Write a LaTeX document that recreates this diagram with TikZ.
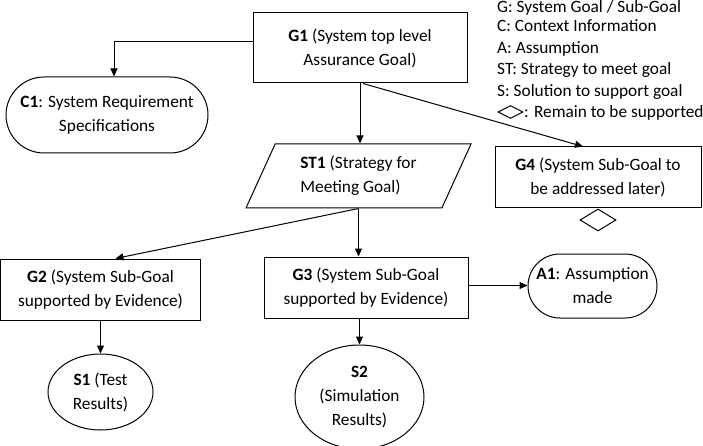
\documentclass[tikz,border=0pt]{standalone}
\usepackage{fontspec}
\setmainfont{Carlito}
\usetikzlibrary{arrows.meta,positioning,shapes.geometric}

\newcommand\gsnfont{\fontsize{17.3}{24}\selectfont}
\newcommand\keyfont{\fontsize{17.3}{21.5}\selectfont}

\begin{document}
\begin{tikzpicture}[x=1pt, y=-1pt, >={Triangle[length=8pt,width=7pt]}]

% ---------------- styles ----------------
\tikzset{
  box/.style={draw, line width=1pt, align=center, inner sep=1pt, font=\gsnfont},
  goal/.style={box, rectangle},
  context/.style={box, rectangle, rounded corners=#1},
  strategy/.style={box, trapezium, trapezium left angle=55, trapezium right angle=125,
                   trapezium stretches body, align=left},
  solution/.style={box, ellipse, inner sep=0pt},
  undev/.style={draw, diamond, line width=1pt, inner sep=0pt},
  link/.style={->, line width=1pt},
  legend/.style={font=\keyfont, anchor=base west, inner sep=0pt}
}

% fixed canvas, as the page
\useasboundingbox (0,0) rectangle (703,446);

% ---------------- top goal and context ----------------
\node[goal, minimum width=214pt, minimum height=70pt] (g1) at (360,48)
  {\textbf{G1} (System top level\\Assurance Goal)};
\node[context=38pt, minimum width=202pt, minimum height=76pt] (c1) at (107,115)
  {\textbf{C1}: System Requirement\\Specifications};

% ---------------- strategy ----------------
\node[strategy, minimum width=225pt, minimum height=64pt] (st1) at (358.5,176)
  {\textbf{ST1} (Strategy for\\Meeting Goal)};

% ---------------- sub-goals ----------------
\node[goal, minimum width=206pt, minimum height=61pt] (g4) at (598,177.5)
  {\textbf{G4} (System Sub-Goal to\\be addressed later)};
\node[undev, minimum width=36pt, minimum height=22pt, below=0pt of g4] (g4u) {};

\node[goal, minimum width=200pt, minimum height=61pt] (g2) at (100.5,289.5)
  {\textbf{G2} (System Sub-Goal\\supported by Evidence)};
\node[goal, minimum width=204pt, minimum height=61pt] (g3) at (366,287.5)
  {\textbf{G3} (System Sub-Goal\\supported by Evidence)};
\node[context=32pt, minimum width=129pt, minimum height=64pt] (a1) at (592.5,286)
  {\textbf{A1}: Assumption\\made};

% ---------------- solutions ----------------
\node[solution, minimum width=105pt, minimum height=76pt] (s1) at (100.5,392)
  {\textbf{S1} (Test\\Results)};
\node[solution, minimum width=129pt, minimum height=104pt] (s2) at (359.5,397)
  {\textbf{S2}\\(Simulation\\Results)};

% ---------------- links ----------------
\draw[link] ([yshift=6pt]g1.west) -| ([xshift=7pt]c1.north);
\draw[link] (g1.south) -- (g1.south |- st1.north);
\draw[link] ([xshift=3pt]g1.south) -- ([xshift=-15pt]g4.north);
\draw[link] (st1.south) -- ([xshift=15pt]g2.north);
\draw[link] (st1.south) -- (st1.south |- g3.north);
\draw[link] ([yshift=2pt]g3.east) -- ([yshift=2pt]g3.east -| a1.west);
\draw[link] (s2.north |- g3.south) -- (s2.north);
\draw[link] (g2.south) -- (s1.north);

% ---------------- key ----------------
\node[legend] (k1) at (497,12.5) {G: System Goal / Sub-Goal};
\node[legend] (k2) at (497,32) {C: Context Information};
\node[legend] (k3) at (497,53.5) {A: Assumption};
\node[legend] (k4) at (497,75) {ST: Strategy to meet goal};
\node[legend] (k5) at (497,96.5) {S: Solution to support goal};
\node[undev, minimum width=25pt, minimum height=13pt] (k6d) at (510.5,112) {};
\node[legend] (k6) at (524,118) {: Remain to be supported};

\end{tikzpicture}
\end{document}
